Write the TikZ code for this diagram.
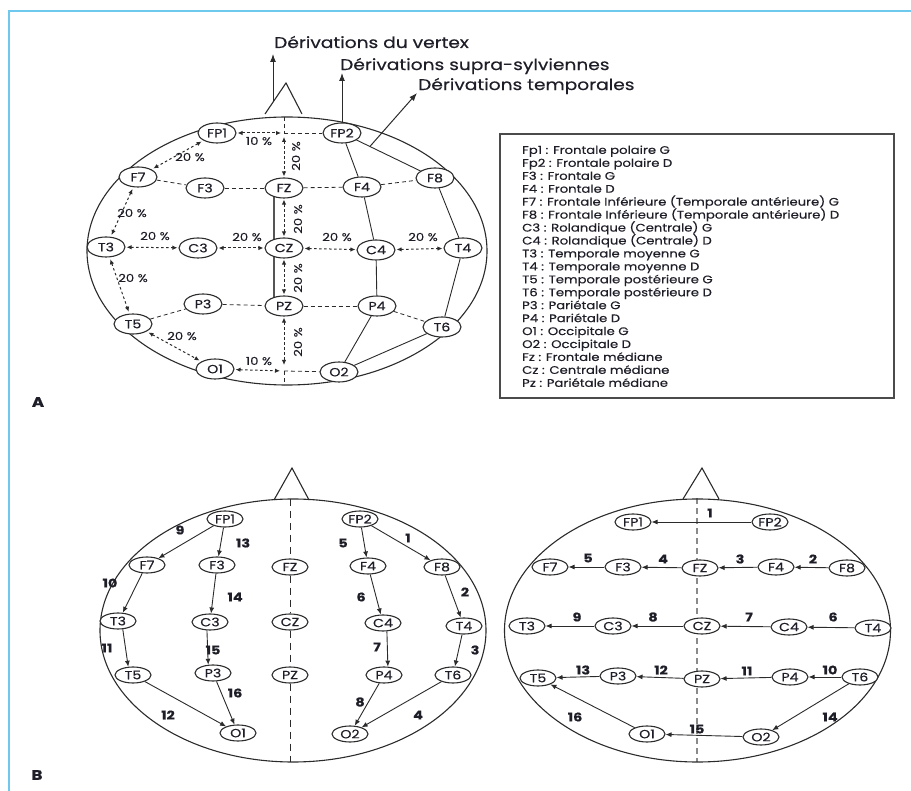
\documentclass[tikz,border=0pt]{standalone}
\usepackage{fontspec}
\setmainfont{Poppins}[FakeStretch=1.2, FakeBold=0.45]
\usetikzlibrary{shapes.geometric,arrows.meta,calc}
\pgfdeclarelayer{background}
\pgfsetlayers{background,main}
\definecolor{linec}{HTML}{2B2B2B}
\definecolor{txt}{HTML}{1E1E28}
\definecolor{framec}{HTML}{6FC9EE}
\definecolor{midgray}{HTML}{8A8A8A}
\newcommand\fNode{\fontsize{11.8}{13}\selectfont}
\newcommand\fPct{\fontsize{11}{12}\selectfont}
\newcommand\fNum{\fontsize{12}{13}\selectfont\bfseries}
\newcommand\fLeg{\fontsize{11}{12}\selectfont}
\newcommand\fTitle{\fontsize{15.5}{16}\selectfont}
\newcommand\fAB{\fontsize{14}{16}\selectfont\bfseries}
\tikzset{
  el/.style={ellipse, draw=linec, line width=1.1pt, fill=white, inner sep=0pt,
    minimum width=38pt, minimum height=20pt, font=\fNode, text=txt},
  elb/.style={el, minimum width=36pt, minimum height=16pt},
  dsh/.style={draw=linec, line width=0.8pt, dash pattern=on 4pt off 3pt},
  dbl/.style={draw=linec, line width=1pt, dash pattern=on 2.5pt off 2.5pt, <->,
    >={Latex[length=5pt,width=4.5pt]}},
  sol/.style={draw=linec, line width=0.9pt},
  arr/.style={draw=linec, line width=0.9pt, -{Latex[length=6pt,width=5pt]}},
  bigarr/.style={draw=linec, line width=1pt, -{Latex[length=8pt,width=6pt]}},
  pct/.style={font=\fPct, text=txt, inner sep=0pt},
  num/.style={font=\fNum, text=txt, inner sep=0pt},
  ttl/.style={font=\fTitle, text=txt, inner sep=0pt, anchor=west},
  leg/.style={font=\fLeg, text=txt, inner sep=0pt, anchor=base west},
  head/.style={draw=linec, line width=1.1pt},
  mid/.style={draw=linec, line width=0.9pt, dash pattern=on 7pt off 5pt},
}
\begin{document}
\begin{tikzpicture}[x=1pt,y=-1pt]
\useasboundingbox (0,0) rectangle (911,791);
% frame
\draw[framec, line width=2pt] (9,791) -- (9,11) -- (911,11);

% ================= A =================
\draw[head] (287,251) ellipse [x radius=200pt, y radius=134pt];
\draw[head] (265,114) -- (286,83) -- (302,114);

\node[el] (aFP1) at (217,133) {FP1};
\node[el] (aFP2) at (342,133) {FP2};
\node[el] (aF7) at (138,177) {F7};
\node[el] (aF3) at (205,188) {F3};
\node[el] (aFZ) at (284,188) {FZ};
\node[el] (aF4) at (362,187) {F4};
\node[el] (aF8) at (435,178) {F8};
\node[el] (aT3) at (106,247) {T3};
\node[el] (aC3) at (198,248) {C3};
\node[el] (aCZ) at (284,248) {CZ};
\node[el] (aC4) at (376,250) {C4};
\node[el] (aT4) at (463,248) {T4};
\node[el] (aP3) at (203,304) {P3};
\node[el] (aPZ) at (284,306) {PZ};
\node[el] (aP4) at (377,306) {P4};
\node[el] (aT5) at (133,324) {T5};
\node[el] (aT6) at (442,327) {T6};
\node[el] (aO1) at (215,369) {O1};
\node[el] (aO2) at (339,372) {O2};

\coordinate (am1) at (284,133);
\coordinate (am2) at (284,371);
\coordinate (atop) at (284,117);
\coordinate (abot) at (284,385);

\begin{pgfonlayer}{background}
  \draw[draw=linec!80, line width=1.4pt] ([xshift=-10pt]aFZ.center) -- ([xshift=-10pt]aPZ.center);
\end{pgfonlayer}

% dashed grid
\draw[dsh] (am1) -- (aFP2);
\draw[dsh] (am2) -- (aO2);
\draw[dsh] (atop) -- (am1);
\draw[dsh] (am2) -- (abot);
\draw[dsh] (aF7) -- (aF3);
\draw[dsh] (aF3) -- (aFZ);
\draw[dsh] (aFZ) -- (aF4);
\draw[dsh] (aF4) -- (aF8);
\draw[dsh] (aT5) -- (aP3);
\draw[dsh] (aP3) -- (aPZ);
\draw[dsh] (aPZ) -- (aP4);
\draw[dsh] (aP4) -- (aT6);

% solid chains
\draw[sol] (aFP2) -- (aF4);
\draw[sol] (aF4) -- (aC4);
\draw[sol] (aC4) -- (aP4);
\draw[sol] (aP4) -- (aO2);
\draw[sol] (aFP2) -- (aF8);
\draw[sol] (aF8) -- (aT4);
\draw[sol] (aT4) -- (aT6);
\draw[sol] (aT6) -- (aO2);

% measured double arrows
\draw[dbl, shorten <=1pt, shorten >=3pt] (aFP1) -- (am1);
\draw[dbl, shorten <=4pt, shorten >=1pt] (am1) -- (aFZ);
\draw[dbl, shorten <=1pt, shorten >=1pt] (aFZ) -- (aCZ);
\draw[dbl, shorten <=1pt, shorten >=1pt] (aCZ) -- (aPZ);
\draw[dbl, shorten <=1pt, shorten >=6pt] (aPZ) -- (am2);
\draw[dbl, shorten <=1pt, shorten >=4pt] (aO1) -- (am2);
\draw[dbl, shorten <=1pt, shorten >=1pt] (aT3) -- (aC3);
\draw[dbl, shorten <=1pt, shorten >=1pt] (aC3) -- (aCZ);
\draw[dbl, shorten <=1pt, shorten >=1pt] (aCZ) -- (aC4);
\draw[dbl, shorten <=1pt, shorten >=1pt] (aC4) -- (aT4);
\draw[dbl, shorten <=2pt, shorten >=2pt] (aFP1) -- (aF7);
\draw[dbl, shorten <=2pt, shorten >=2pt] (aF7) -- (aT3);
\draw[dbl, shorten <=2pt, shorten >=2pt] (aT3) -- (aT5);
\draw[dbl, shorten <=2pt, shorten >=2pt] (aT5) -- (aO1);

\node[pct] (p1) at (259,141) {10 \%};
\node[pct] (p2) at (259,361) {10 \%};
\node[pct, rotate=90] (p3) at (296,156) {20 \%};
\node[pct, rotate=90] (p4) at (298,219) {20 \%};
\node[pct, rotate=90] (p5) at (298,278) {20 \%};
\node[pct, rotate=90] (p6) at (298,342) {20 \%};
\node[pct] (p7) at (155,236) {20 \%};
\node[pct] (p8) at (247,237) {20 \%};
\node[pct] (p9) at (337,237) {20 \%};
\node[pct] (p10) at (423,237) {20 \%};
\node[pct] (p11) at (190,157) {20 \%};
\node[pct] (p12) at (132,213) {20 \%};
\node[pct] (p13) at (133,278) {20 \%};
\node[pct] (p14) at (182,336) {20 \%};

% titles and arrows
\coordinate (vtxS) at (273,102);
\coordinate (vtxE) at (273,54);
\coordinate (supE) at (342,73);
\coordinate (tmpS) at ($(aFP2)!0.3!(aF8)$);
\coordinate (tmpE) at (417,93);
\draw[bigarr] (vtxS) -- (vtxE);
\draw[bigarr] (aFP2.north) -- (supE);
\draw[bigarr] (tmpS) -- (tmpE);
\node[ttl] (tV) at (274,42) {Dérivations du vertex};
\node[ttl] (tS) at (340,66) {Dérivations supra-sylviennes};
\node[ttl] (tT) at (418,86) {Dérivations temporales};

% legend
\draw[draw=linec!85, line width=1.2pt] (500,134) rectangle (894,398);
\foreach \t [count=\i] in {Fp1 : Frontale polaire G, Fp2 : Frontale polaire D,
  F3 : Frontale G, F4 : Frontale D,
  F7 : Frontale Inférieure (Temporale antérieure) G,
  F8 : Frontale Inférieure (Temporale antérieure) D,
  C3 : Rolandique (Centrale) G, C4 : Rolandique (Centrale) D,
  T3 : Temporale moyenne G, T4 : Temporale moyenne D,
  T5 : Temporale postérieure G, T6 : Temporale postérieure D,
  P3 : Pariétale G, P4 : Pariétale D, O1 : Occipitale G, O2 : Occipitale D,
  Fz : Frontale médiane, Cz : Centrale médiane, Pz : Pariétale médiane}
  \node[leg] (leg\i) at (522,{153.9+(\i-1)*12.94}) {\t};

\node[font=\fAB, text=txt, inner sep=0pt] (labA) at (38,402) {A};
\node[font=\fAB, text=txt, inner sep=0pt] (labB) at (37,775) {B};

% ================= B left =================
\draw[head] (293,630.5) ellipse [x radius=193pt, y radius=131.5pt];
\draw[head] (274,500) -- (292,468) -- (309,500);

\node[elb] (bFP1) at (225,519) {FP1};
\node[elb] (bFP2) at (360,519) {FP2};
\node[elb] (bF7) at (147,565) {F7};
\node[elb] (bF3) at (217,565) {F3};
\node[elb] (bFZ) at (290,567) {FZ};
\node[elb] (bF4) at (368,566) {F4};
\node[elb] (bF8) at (442,567) {F8};
\node[elb] (bT3) at (118,621) {T3};
\node[elb] (bC3) at (210,622) {C3};
\node[elb] (bCZ) at (290,622) {CZ};
\node[elb] (bC4) at (383,623) {C4};
\node[elb] (bT4) at (464,626) {T4};
\node[elb] (bT5) at (133,675) {T5};
\node[elb] (bP3) at (213,673) {P3};
\node[elb] (bPZ) at (290,675) {PZ};
\node[elb] (bP4) at (384,675) {P4};
\node[elb] (bT6) at (453,675) {T6};
\node[elb] (bO1) at (238,733) {O1};
\node[elb] (bO2) at (350,734) {O2};

\coordinate (btop) at (290,499);
\coordinate (bbot) at (290,762);
\draw[mid] (btop) -- (bFZ);
\draw[mid] (bFZ) -- (bCZ);
\draw[mid] (bCZ) -- (bPZ);
\draw[mid] (bPZ) -- (bbot);

\draw[arr] (bFP2) -- (bF8);
\draw[arr] (bF8) -- (bT4);
\draw[arr] (bT4) -- (bT6);
\draw[arr] (bT6) -- (bO2);
\draw[arr] (bFP2) -- (bF4);
\draw[arr] (bF4) -- (bC4);
\draw[arr] (bC4.-65) -- (bP4.65);
\draw[arr] (bP4) -- (bO2);
\draw[arr] (bFP1) -- (bF7);
\draw[arr] (bF7.240) -- (bT3.60);
\draw[arr] (bT3.-60) -- (bT5.120);
\draw[arr] (bT5) -- (bO1);
\draw[arr] (bFP1) -- (bF3);
\draw[arr] (bF3) -- (bC3);
\draw[arr] (bC3.250) -- (bP3.120);
\draw[arr] (bP3) -- (bO1);

\node[num] (bn1) at (408,538) {1};
\node[num] (bn2) at (465,592) {2};
\node[num] (bn3) at (475,650) {3};
\node[num] (bn4) at (418,715) {4};
\node[num] (bn5) at (343,543) {5};
\node[num] (bn6) at (361,597) {6};
\node[num] (bn7) at (377,647) {7};
\node[num] (bn8) at (360,702) {8};
\node[num] (bn9) at (180,530) {9};
\node[num] (bn10) at (110,583) {10};
\node[num] (bn11) at (107,648) {11};
\node[num] (bn12) at (168,715) {12};
\node[num] (bn13) at (243,543) {13};
\node[num] (bn14) at (235,597) {14};
\node[num] (bn15) at (213,650) {15};
\node[num] (bn16) at (235,693) {16};

% ================= B right =================
\draw[head] (697.5,630.5) ellipse [x radius=193pt, y radius=131.5pt];
\draw[head] (683,499) -- (702,468) -- (719,499);

\coordinate (ctop) at (697,498);
\coordinate (cbot) at (697,762);
\begin{pgfonlayer}{background}
  \draw[draw=midgray, line width=1.6pt, dash pattern=on 6pt off 4pt] (ctop) -- (cbot);
\end{pgfonlayer}

\node[elb] (cFP1) at (633,522) {FP1};
\node[elb] (cFP2) at (770,522) {FP2};
\node[elb] (cF7) at (550,567) {F7};
\node[elb] (cF3) at (623,567) {F3};
\node[elb] (cFZ) at (700,568) {FZ};
\node[elb] (cF4) at (776,567) {F4};
\node[elb] (cF8) at (847,568) {F8};
\node[elb] (cT3) at (527,626) {T3};
\node[elb] (cC3) at (613,626) {C3};
\node[elb] (cCZ) at (702,626) {CZ};
\node[elb] (cC4) at (789,627) {C4};
\node[elb] (cT4) at (873,628) {T4};
\node[elb] (cT5) at (538,678) {T5};
\node[elb] (cP3) at (618,676) {P3};
\node[elb] (cPZ) at (702,679) {PZ};
\node[elb] (cP4) at (790,677) {P4};
\node[elb] (cT6) at (860,677) {T6};
\node[elb] (cO1) at (647,734) {O1};
\node[elb] (cO2) at (761,737) {O2};

\draw[arr] (cFP2) -- (cFP1);
\draw[arr] (cF8) -- (cF4);
\draw[arr] (cF4) -- (cFZ);
\draw[arr] (cFZ) -- (cF3);
\draw[arr] (cF3) -- (cF7);
\draw[arr] (cT4) -- (cC4);
\draw[arr] (cC4) -- (cCZ);
\draw[arr] (cCZ) -- (cC3);
\draw[arr] (cC3) -- (cT3);
\draw[arr] (cT6) -- (cP4);
\draw[arr] (cP4) -- (cPZ);
\draw[arr] (cPZ) -- (cP3);
\draw[arr] (cP3) -- (cT5);
\draw[arr] (cT6) -- (cO2);
\draw[arr] (cO2) -- (cO1);
\draw[arr] (cO1) -- (cT5);

\node[num] (cn1) at (710,513) {1};
\node[num] (cn2) at (813,559) {2};
\node[num] (cn3) at (740,559) {3};
\node[num] (cn4) at (663,559) {4};
\node[num] (cn5) at (588,558) {5};
\node[num] (cn6) at (833,617) {6};
\node[num] (cn7) at (749,617) {7};
\node[num] (cn8) at (653,617) {8};
\node[num] (cn9) at (577,617) {9};
\node[num] (cn10) at (830,670) {10};
\node[num] (cn11) at (747,671) {11};
\node[num] (cn12) at (661,670) {12};
\node[num] (cn13) at (583,670) {13};
\node[num] (cn14) at (830,717) {14};
\node[num] (cn15) at (697,729) {15};
\node[num] (cn16) at (575,717) {16};
\end{tikzpicture}
\end{document}
